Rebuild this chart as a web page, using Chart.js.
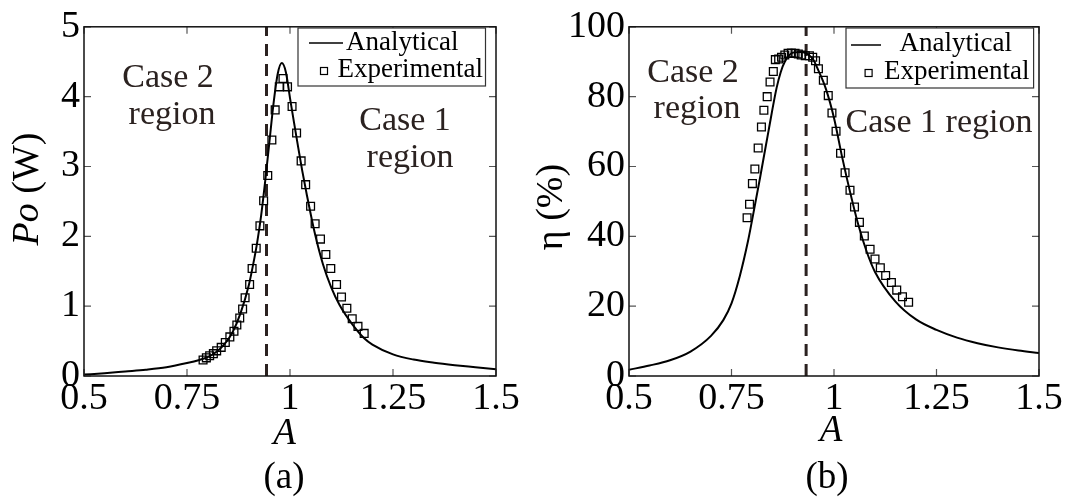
<!DOCTYPE html>
<html>
<head>
<meta charset="utf-8">
<script src="https://cdn.jsdelivr.net/npm/chart.js@4.4.1/dist/chart.umd.min.js"></script>
<style>
  body { margin: 0; background: #fff; }
  #wrap { position: relative; width: 1069px; height: 503px; }
  .panel { position: absolute; top: 0; height: 503px; }
</style>
</head>
<body>
<div id="wrap">
  <div class="panel" style="left:0;width:535px"><canvas id="chartA" width="535" height="503"></canvas></div>
  <div class="panel" style="left:535px;width:534px"><canvas id="chartB" width="534" height="503"></canvas></div>
</div>
<script>
// ---- data ----
const xTicks = [0.5, 0.75, 1, 1.25, 1.5];
const poTicks = [0, 1, 2, 3, 4, 5];
const etaTicks = [0, 20, 40, 60, 80, 100];

// (a) output power
const anaA_a = [0.5, 0.55, 0.6, 0.65, 0.7, 0.75, 0.78, 0.8, 0.82, 0.84, 0.86, 0.88, 0.9, 0.91, 0.92, 0.93, 0.94, 0.95, 0.96, 0.97, 0.98, 0.99, 1.0, 1.01, 1.02, 1.03, 1.04, 1.06, 1.08, 1.1, 1.12, 1.15, 1.18, 1.2, 1.25, 1.3, 1.35, 1.4, 1.45, 1.5];
const anaPo  = [0.02, 0.04, 0.065, 0.09, 0.125, 0.185, 0.23, 0.27, 0.34, 0.45, 0.62, 0.9, 1.3, 1.58, 1.9, 2.3, 2.8, 3.35, 3.9, 4.32, 4.48, 4.35, 3.98, 3.62, 3.27, 2.93, 2.62, 2.05, 1.6, 1.27, 1.02, 0.75, 0.54, 0.45, 0.31, 0.235, 0.19, 0.155, 0.125, 0.095];
const expA_a = [0.789, 0.797, 0.805, 0.814, 0.822, 0.833, 0.843, 0.854, 0.864, 0.871, 0.878, 0.885, 0.891, 0.902, 0.908, 0.918, 0.927, 0.936, 0.946, 0.956, 0.964, 0.974, 0.983, 0.994, 1.005, 1.016, 1.027, 1.038, 1.05, 1.061, 1.074, 1.087, 1.099, 1.113, 1.125, 1.138, 1.151, 1.165, 1.18];
const expPo  = [0.23, 0.26, 0.29, 0.32, 0.36, 0.41, 0.48, 0.56, 0.64, 0.73, 0.83, 0.96, 1.12, 1.31, 1.54, 1.83, 2.15, 2.51, 2.87, 3.38, 3.81, 4.14, 4.26, 4.14, 3.86, 3.48, 3.08, 2.74, 2.43, 2.18, 1.96, 1.74, 1.54, 1.31, 1.13, 0.97, 0.82, 0.71, 0.61];

// (b) efficiency
const anaA_b = [0.5, 0.55, 0.6, 0.65, 0.7, 0.73, 0.75, 0.77, 0.79, 0.8, 0.82, 0.84, 0.86, 0.87, 0.88, 0.9, 0.92, 0.94, 0.95, 0.96, 0.98, 1.0, 1.02, 1.04, 1.06, 1.08, 1.1, 1.15, 1.2, 1.25, 1.3, 1.35, 1.4, 1.45, 1.5];
const anaEta = [1.8, 3.0, 4.5, 7.0, 11.5, 16.0, 20.8, 28.5, 38.5, 44.5, 57, 70, 82.5, 87, 90, 92.6, 92.8, 91.8, 90.5, 88, 82.3, 73.9, 62.6, 52.3, 43, 35.5, 29.8, 21.3, 16.2, 13.2, 11, 9.4, 8.2, 7.3, 6.6];
const expA_b = [0.788, 0.794, 0.801, 0.807, 0.815, 0.823, 0.829, 0.837, 0.844, 0.852, 0.857, 0.865, 0.872, 0.88, 0.888, 0.896, 0.905, 0.913, 0.92, 0.93, 0.94, 0.948, 0.955, 0.962, 0.974, 0.986, 0.995, 1.005, 1.016, 1.027, 1.039, 1.05, 1.062, 1.074, 1.088, 1.1, 1.113, 1.126, 1.14, 1.153, 1.167, 1.182];
const expEta = [45.3, 49.2, 55.1, 59.3, 65.3, 71.3, 76.1, 80, 84.2, 87.2, 90.6, 90.8, 91.3, 91.9, 92.4, 92.5, 92.4, 92.2, 91.9, 91.7, 91.7, 91.3, 90.3, 88, 84.7, 80.3, 75.3, 70.1, 63.8, 58.2, 53.2, 48.4, 44, 40.1, 36.3, 33.5, 31, 28.8, 26.8, 24.6, 22.7, 21.1];

// Case 1 / Case 2 boundary
const boundaryA = [0.943, 0.932];

// ---- drawing ----
const SERIF = '"Liberation Serif", "DejaVu Serif", serif';
const TEXT_BROWN = '#2b2220';

const pts = (xs, ys) => xs.map((x, i) => ({ x: x, y: ys[i] }));

function decor(o) {
  return {
    id: 'decor',
    afterDatasetsDraw(chart) {
      const { ctx, chartArea: ca, scales: { x, y } } = chart;
      ctx.save();

      // inward ticks on all four sides
      ctx.strokeStyle = '#555';
      ctx.lineWidth = 1.2;
      ctx.beginPath();
      xTicks.forEach(v => {
        const px = x.getPixelForValue(v);
        ctx.moveTo(px, ca.bottom); ctx.lineTo(px, ca.bottom - 7);
        ctx.moveTo(px, ca.top); ctx.lineTo(px, ca.top + 7);
      });
      o.yTicks.forEach(v => {
        const py = y.getPixelForValue(v);
        ctx.moveTo(ca.left, py); ctx.lineTo(ca.left + 7, py);
        ctx.moveTo(ca.right, py); ctx.lineTo(ca.right - 7, py);
      });
      ctx.stroke();

      // frame
      ctx.strokeStyle = '#111';
      ctx.lineWidth = 1.5;
      ctx.strokeRect(ca.left, ca.top, ca.width, ca.height);

      // legend
      const lg = o.legend;
      ctx.fillStyle = '#fff';
      ctx.fillRect(lg.x, lg.y, lg.w, lg.h);
      ctx.strokeStyle = '#333';
      ctx.lineWidth = 1.2;
      ctx.strokeRect(lg.x, lg.y, lg.w, lg.h);
      ctx.strokeStyle = '#000';
      ctx.lineWidth = 1.5;
      ctx.beginPath();
      ctx.moveTo(lg.line[0], lg.line[2]); ctx.lineTo(lg.line[1], lg.line[2]);
      ctx.stroke();
      ctx.lineWidth = 1.2;
      ctx.strokeRect(lg.sq[0] - 3.5, lg.sq[1] - 3.5, 7, 7);
      ctx.fillStyle = '#000';
      ctx.font = '27px ' + SERIF;
      ctx.textAlign = 'left';
      ctx.textBaseline = 'middle';
      ctx.fillText(chart.data.datasets[0].label, lg.t1[0], lg.t1[1]);
      ctx.fillText(chart.data.datasets[1].label, lg.t2[0], lg.t2[1]);

      // region labels
      ctx.fillStyle = TEXT_BROWN;
      ctx.font = '34px ' + SERIF;
      ctx.textAlign = 'center';
      ctx.textBaseline = 'alphabetic';
      o.regions.forEach(r => ctx.fillText(r[0], r[1], r[2]));

      // axis titles
      ctx.fillStyle = '#000';
      ctx.textBaseline = 'middle';
      ctx.font = 'italic 37px ' + SERIF;
      ctx.fillText('A', o.xTitle[0], o.xTitle[1]);
      ctx.font = '37px ' + SERIF;
      ctx.fillText(o.caption[0], o.caption[1], o.caption[2]);

      ctx.save();
      ctx.translate(o.yTitle.x, o.yTitle.y);
      ctx.rotate(-Math.PI / 2);
      const parts = o.yTitle.parts;
      let total = 0;
      parts.forEach(p => { ctx.font = p[1] + '38px ' + SERIF; total += ctx.measureText(p[0]).width; });
      let cx = -total / 2;
      ctx.textAlign = 'left';
      parts.forEach(p => {
        ctx.font = p[1] + '38px ' + SERIF;
        ctx.fillText(p[0], cx, 0);
        cx += ctx.measureText(p[0]).width;
      });
      ctx.restore();

      ctx.restore();
    }
  };
}

function makeChart(id, cfg) {
  const tickFont = { family: SERIF, size: 38 };
  return new Chart(document.getElementById(id), {
    type: 'scatter',
    data: {
      datasets: [
        {
          label: 'Analytical',
          data: pts(cfg.anaX, cfg.anaY),
          showLine: true,
          borderColor: '#000',
          borderWidth: 2,
          pointRadius: 0,
          cubicInterpolationMode: 'monotone',
          order: 2
        },
        {
          label: 'Experimental',
          data: pts(cfg.expX, cfg.expY),
          showLine: false,
          pointStyle: 'rect',
          pointRadius: 5.5,
          pointBorderWidth: 1.3,
          borderColor: '#000',
          backgroundColor: 'rgba(0,0,0,0)',
          order: 1
        },
        {
          label: 'boundary',
          data: [{ x: cfg.boundary, y: cfg.yMin }, { x: cfg.boundary, y: cfg.yMax }],
          showLine: true,
          borderColor: TEXT_BROWN,
          borderWidth: 3,
          borderDash: [12, 8],
          pointRadius: 0,
          order: 3
        }
      ]
    },
    options: {
      responsive: false,
      animation: false,
      events: [],
      layout: { padding: cfg.padding },
      plugins: { legend: { display: false }, tooltip: { enabled: false } },
      scales: {
        x: {
          type: 'linear', min: 0.5, max: 1.5,
          afterBuildTicks: s => { s.ticks = xTicks.map(v => ({ value: v })); },
          afterFit: s => { s.height = cfg.xHeight; },
          ticks: { callback: v => String(v), color: '#000', font: tickFont, maxRotation: 0, autoSkip: false, padding: 0 },
          grid: { display: false, drawTicks: false },
          border: { display: false }
        },
        y: {
          type: 'linear', min: cfg.yMin, max: cfg.yMax,
          afterBuildTicks: s => { s.ticks = cfg.yTicks.map(v => ({ value: v })); },
          afterFit: s => { s.width = cfg.yWidth; },
          ticks: { callback: v => String(v), color: '#000', font: tickFont, padding: 4 },
          grid: { display: false, drawTicks: false },
          border: { display: false }
        }
      }
    },
    plugins: [decor(cfg)]
  });
}

makeChart('chartA', {
  anaX: anaA_a, anaY: anaPo, expX: expA_a, expY: expPo,
  boundary: boundaryA[0], yMin: 0, yMax: 5, yTicks: poTicks,
  padding: { left: 0, right: 39, top: 21, bottom: 0 },
  xHeight: 127, yWidth: 84,
  legend: { x: 298, y: 28, w: 187.5, h: 58, line: [309, 343, 43], sq: [324, 71], t1: [346, 43], t2: [337.5, 70] },
  regions: [['Case 2', 168, 87], ['region', 172, 124], ['Case 1', 405, 130], ['region', 410, 167]],
  xTitle: [284.5, 434], caption: ['(a)', 284, 478],
  yTitle: { x: 28.5, y: 189, parts: [['Po', 'italic '], [' (W)', '']] }
});

makeChart('chartB', {
  anaX: anaA_b, anaY: anaEta, expX: expA_b, expY: expEta,
  boundary: boundaryA[1], yMin: 0, yMax: 100, yTicks: etaTicks,
  padding: { left: 0, right: 30, top: 21, bottom: 0 },
  xHeight: 127, yWidth: 94,
  legend: { x: 311, y: 28, w: 187.6, h: 60, line: [316, 346, 45], sq: [333.6, 73], t1: [364.5, 44], t2: [349, 72] },
  regions: [['Case 2', 158, 82], ['region', 162, 118], ['Case 1 region', 404, 132]],
  xTitle: [296, 431], caption: ['(b)', 292, 478],
  yTitle: { x: 17, y: 207, parts: [['η (%)', '']] }
});
</script>
</body>
</html>
